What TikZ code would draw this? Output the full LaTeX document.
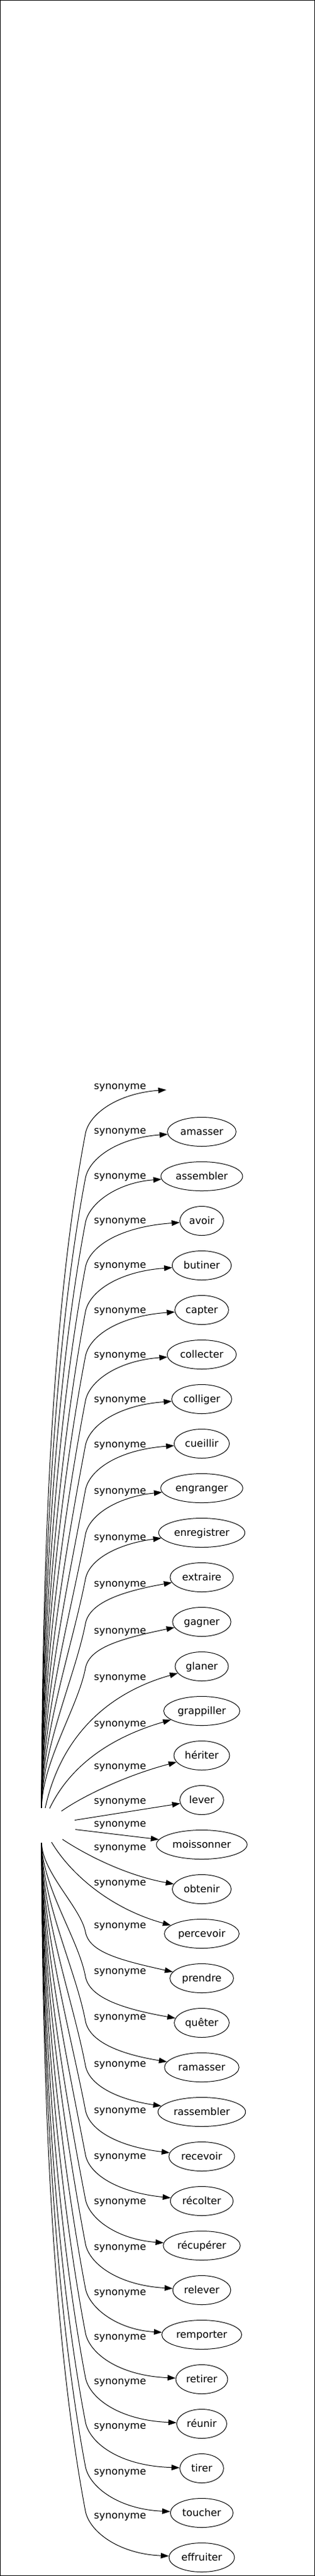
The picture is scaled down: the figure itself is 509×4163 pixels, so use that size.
\documentclass[tikz,border=0pt]{standalone}
\usepackage{fontspec}
\setmainfont{DejaVu Sans}
\usetikzlibrary{shapes.geometric,arrows.meta}

\tikzset{
	terme/.style={ellipse, draw, line width=0.75pt, minimum width=53pt, minimum height=35.25pt, inner xsep=3.4pt, inner ysep=2pt, text height=9pt, text depth=0.8pt, font=\fontsize{12.2}{14}\selectfont},
	cache/.style={ellipse, minimum height=35.25pt},
	syn/.style={line width=0.75pt, -{Triangle[length=9.75pt,width=6.75pt]}},
	etiq/.style={inner sep=0pt, font=\fontsize{12.2}{14}\selectfont}
}

\begin{document}
\begin{tikzpicture}[x=0.75pt,y=0.75pt,yscale=-1,xscale=1]
			\useasboundingbox (0,0) rectangle (509,4163);
			\draw [line width=0.9pt] (0.6,0.6) rectangle (508.4,4162.4);
			% source and targets
			\draw (67,2950) node [cache, minimum width=84pt, minimum height=42pt] (source) {};
			\draw (326,1757) node [cache, minimum width=87pt] (vide) {};
			\draw (326,1829) node [terme] (amasser) {amasser};
			\draw (326,1901) node [terme] (assembler) {assembler};
			\draw (326,1973) node [terme] (avoir) {avoir};
			\draw (326,2045) node [terme] (butiner) {butiner};
			\draw (326,2117) node [terme] (capter) {capter};
			\draw (326,2189) node [terme] (collecter) {collecter};
			\draw (326,2261) node [terme] (colliger) {colliger};
			\draw (326,2333) node [terme] (cueillir) {cueillir};
			\draw (326,2405) node [terme] (engranger) {engranger};
			\draw (326,2477) node [terme] (enregistrer) {enregistrer};
			\draw (326,2549) node [terme] (extraire) {extraire};
			\draw (326,2621) node [terme] (gagner) {gagner};
			\draw (326,2693) node [terme] (glaner) {glaner};
			\draw (326,2765) node [terme] (grappiller) {grappiller};
			\draw (326,2837) node [terme] (heriter) {hériter};
			\draw (326,2909) node [terme] (lever) {lever};
			\draw (326,2981) node [terme] (moissonner) {moissonner};
			\draw (326,3053) node [terme] (obtenir) {obtenir};
			\draw (326,3125) node [terme] (percevoir) {percevoir};
			\draw (326,3197) node [terme] (prendre) {prendre};
			\draw (326,3269) node [terme] (queter) {quêter};
			\draw (326,3341) node [terme] (ramasser) {ramasser};
			\draw (326,3413) node [terme] (rassembler) {rassembler};
			\draw (326,3485) node [terme] (recevoir) {recevoir};
			\draw (326,3557) node [terme] (recolter) {récolter};
			\draw (326,3629) node [terme] (recuperer) {récupérer};
			\draw (326,3701) node [terme] (relever) {relever};
			\draw (326,3773) node [terme] (remporter) {remporter};
			\draw (326,3845) node [terme] (retirer) {retirer};
			\draw (326,3917) node [terme] (reunir) {réunir};
			\draw (326,3989) node [terme] (tirer) {tirer};
			\draw (326,4061) node [terme] (toucher) {toucher};
			\draw (326,4133) node [terme] (effruiter) {effruiter};
			% edges, upper half
			\draw [syn] (source) .. controls (68,2562) and (80,2137) .. (138,1832) .. controls (144,1800) and (190,1767) .. (vide) ;
			\draw [syn] (source) .. controls (68,2586) and (84,2189) .. (138,1904) .. controls (144,1872) and (190,1839) .. (amasser) ;
			\draw [syn] (source) .. controls (68,2610) and (88,2241) .. (138,1976) .. controls (144,1944) and (190,1911) .. (assembler) ;
			\draw [syn] (source) .. controls (68,2634) and (92,2293) .. (138,2048) .. controls (144,2016) and (190,1983) .. (avoir) ;
			\draw [syn] (source) .. controls (68,2657) and (96,2345) .. (138,2120) .. controls (144,2088) and (190,2055) .. (butiner) ;
			\draw [syn] (source) .. controls (68,2681) and (99,2396) .. (138,2192) .. controls (144,2160) and (190,2127) .. (capter) ;
			\draw [syn] (source) .. controls (68,2705) and (103,2448) .. (138,2264) .. controls (144,2232) and (190,2199) .. (collecter) ;
			\draw [syn] (source) .. controls (68,2729) and (107,2500) .. (138,2336) .. controls (144,2304) and (190,2271) .. (colliger) ;
			\draw [syn] (source) .. controls (68,2752) and (111,2552) .. (138,2408) .. controls (144,2376) and (190,2343) .. (cueillir) ;
			\draw [syn] (source) .. controls (68,2776) and (115,2604) .. (138,2480) .. controls (144,2448) and (190,2419) .. (engranger) ;
			\draw [syn] (source) .. controls (68,2800) and (118,2656) .. (138,2552) .. controls (144,2520) and (190,2495) .. (enregistrer) ;
			\draw [syn] (source) .. controls (68,2824) and (122,2707) .. (138,2624) .. controls (144,2592) and (190,2573) .. (extraire) ;
			\draw [syn] (source) .. controls (68,2847) and (126,2759) .. (138,2696) .. controls (144,2664) and (190,2649) .. (gagner) ;
			\draw [syn] (source) .. controls (95,2820) and (160,2740) .. (glaner) ;
			\draw [syn] (source) .. controls (110,2860) and (170,2810) .. (grappiller) ;
			\draw [syn] (source) .. controls (130,2905) and (200,2870) .. (heriter) ;
			\draw [syn] (source) -- (lever) ;
			% edges, lower half
			\draw [syn] (source) -- (moissonner) ;
			\draw [syn] (source) .. controls (135,2995) and (200,3030) .. (obtenir) ;
			\draw [syn] (source) .. controls (115,3030) and (180,3085) .. (percevoir) ;
			\draw [syn] (source) .. controls (68,3026) and (130,3082) .. (138,3122) .. controls (144,3154) and (190,3167) .. (prendre) ;
			\draw [syn] (source) .. controls (68,3049) and (127,3134) .. (138,3194) .. controls (144,3226) and (190,3245) .. (queter) ;
			\draw [syn] (source) .. controls (68,3073) and (123,3185) .. (138,3266) .. controls (144,3298) and (190,3319) .. (ramasser) ;
			\draw [syn] (source) .. controls (68,3097) and (119,3237) .. (138,3338) .. controls (144,3370) and (190,3393) .. (rassembler) ;
			\draw [syn] (source) .. controls (68,3121) and (115,3289) .. (138,3410) .. controls (144,3442) and (190,3469) .. (recevoir) ;
			\draw [syn] (source) .. controls (68,3144) and (111,3341) .. (138,3482) .. controls (144,3514) and (190,3543) .. (recolter) ;
			\draw [syn] (source) .. controls (68,3168) and (107,3393) .. (138,3554) .. controls (144,3586) and (190,3619) .. (recuperer) ;
			\draw [syn] (source) .. controls (68,3192) and (104,3445) .. (138,3626) .. controls (144,3658) and (190,3693) .. (relever) ;
			\draw [syn] (source) .. controls (68,3216) and (100,3496) .. (138,3698) .. controls (144,3730) and (190,3765) .. (remporter) ;
			\draw [syn] (source) .. controls (68,3239) and (96,3548) .. (138,3770) .. controls (144,3802) and (190,3839) .. (retirer) ;
			\draw [syn] (source) .. controls (68,3263) and (92,3600) .. (138,3842) .. controls (144,3874) and (190,3911) .. (reunir) ;
			\draw [syn] (source) .. controls (68,3287) and (88,3652) .. (138,3914) .. controls (144,3946) and (190,3985) .. (tirer) ;
			\draw [syn] (source) .. controls (68,3311) and (85,3704) .. (138,3986) .. controls (144,4018) and (190,4055) .. (toucher) ;
			\draw [syn] (source) .. controls (68,3334) and (81,3756) .. (138,4058) .. controls (144,4090) and (190,4127) .. (effruiter) ;
			% labels
			\draw (194,1758) node [etiq] (e0) {synonyme};
			\draw (194,1830) node [etiq] (e1) {synonyme};
			\draw (194,1903) node [etiq] (e2) {synonyme};
			\draw (194,1975) node [etiq] (e3) {synonyme};
			\draw (194,2047) node [etiq] (e4) {synonyme};
			\draw (194,2120) node [etiq] (e5) {synonyme};
			\draw (194,2192) node [etiq] (e6) {synonyme};
			\draw (194,2264) node [etiq] (e7) {synonyme};
			\draw (194,2337) node [etiq] (e8) {synonyme};
			\draw (194,2412) node [etiq] (e9) {synonyme};
			\draw (194,2487) node [etiq] (e10) {synonyme};
			\draw (194,2562) node [etiq] (e11) {synonyme};
			\draw (194,2638) node [etiq] (e12) {synonyme};
			\draw (194,2713) node [etiq] (e13) {synonyme};
			\draw (194,2788) node [etiq] (e14) {synonyme};
			\draw (194,2857) node [etiq] (e15) {synonyme};
			\draw (194,2913) node [etiq] (e16) {synonyme};
			\draw (194,2950) node [etiq] (e17) {synonyme};
			\draw (194,2988) node [etiq] (e18) {synonyme};
			\draw (194,3045) node [etiq] (e19) {synonyme};
			\draw (194,3114) node [etiq] (e20) {synonyme};
			\draw (194,3188) node [etiq] (e21) {synonyme};
			\draw (194,3262) node [etiq] (e22) {synonyme};
			\draw (194,3338) node [etiq] (e23) {synonyme};
			\draw (194,3413) node [etiq] (e24) {synonyme};
			\draw (194,3487) node [etiq] (e25) {synonyme};
			\draw (194,3560) node [etiq] (e26) {synonyme};
			\draw (194,3634) node [etiq] (e27) {synonyme};
			\draw (194,3707) node [etiq] (e28) {synonyme};
			\draw (194,3779) node [etiq] (e29) {synonyme};
			\draw (194,3851) node [etiq] (e30) {synonyme};
			\draw (194,3923) node [etiq] (e31) {synonyme};
			\draw (194,3997) node [etiq] (e32) {synonyme};
			\draw (194,4068) node [etiq] (e33) {synonyme};
\end{tikzpicture}
\end{document}
